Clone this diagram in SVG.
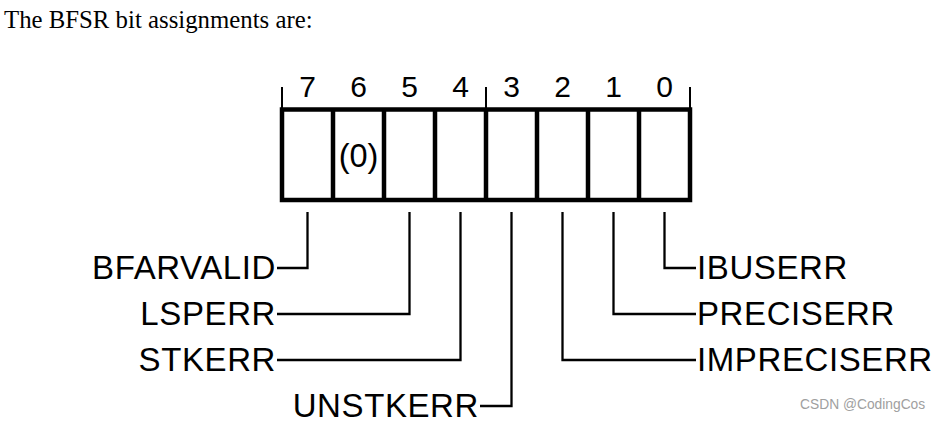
<svg xmlns="http://www.w3.org/2000/svg" width="940" height="421" viewBox="0 0 940 421">
<style>
.hdr{font-family:"Liberation Serif","Times New Roman",serif;font-size:24.8px;fill:#000}
.bit{font-family:"Liberation Sans",Arial,sans-serif;font-size:30px;fill:#000;text-anchor:middle}
.lbl{font-family:"Liberation Sans",Arial,sans-serif;font-size:33px;letter-spacing:0.6px;fill:#000}
.l{text-anchor:end}
.box{fill:#fff;stroke:#000;stroke-width:4.5}
.div{stroke:#000;stroke-width:4.5}
.tick{stroke:#000;stroke-width:2;fill:none}
.conn{stroke:#000;stroke-width:2.3;fill:none}
.wm{font-family:"Liberation Sans",Arial,sans-serif;font-size:13.8px;fill:#a0a0a0}
</style>
<rect width="940" height="421" fill="#fff"/>
<text class="hdr" x="4" y="28">The BFSR bit assignments are:</text>

<g id="register">
  <path class="tick" d="M282,87V108M486,87V108M690,87V108"/>
  <rect class="box" x="282" y="109.5" width="408" height="90.5"/>
  <path class="div" d="M333,109.5V200M384,109.5V200M435,109.5V200M486,109.5V200M537,109.5V200M588,109.5V200M639,109.5V200"/>
  <text class="bit" x="307.5" y="97">7</text>
  <text class="bit" x="358.5" y="97">6</text>
  <text class="bit" x="409.5" y="97">5</text>
  <text class="bit" x="460.5" y="97">4</text>
  <text class="bit" x="511.5" y="97">3</text>
  <text class="bit" x="562.5" y="97">2</text>
  <text class="bit" x="613.5" y="97">1</text>
  <text class="bit" x="664.5" y="97">0</text>
  <text class="bit" x="358.5" y="167" style="font-size:32.5px">(0)</text>
</g>

<g id="connectors">
  <path class="conn" d="M307.5,212V268H277"/>
  <path class="conn" d="M409.5,212V314H277"/>
  <path class="conn" d="M460.5,212V360H277"/>
  <path class="conn" d="M511.5,212V406H480"/>
  <path class="conn" d="M664.5,212V268H696"/>
  <path class="conn" d="M613.5,212V314H696"/>
  <path class="conn" d="M562.5,212V360H696"/>
</g>

<g id="BFARVALID"><text class="lbl l" x="276" y="279">BFARVALID</text></g>
<g id="LSPERR"><text class="lbl l" x="276" y="325">LSPERR</text></g>
<g id="STKERR"><text class="lbl l" x="276" y="371">STKERR</text></g>
<g id="UNSTKERR"><text class="lbl l" x="479" y="416.5">UNSTKERR</text></g>
<g id="IBUSERR"><text class="lbl" x="697" y="279">IBUSERR</text></g>
<g id="PRECISERR"><text class="lbl" x="697" y="325">PRECISERR</text></g>
<g id="IMPRECISERR"><text class="lbl" x="697" y="371">IMPRECISERR</text></g>

<text class="wm" x="800" y="409">CSDN @CodingCos</text>
</svg>
